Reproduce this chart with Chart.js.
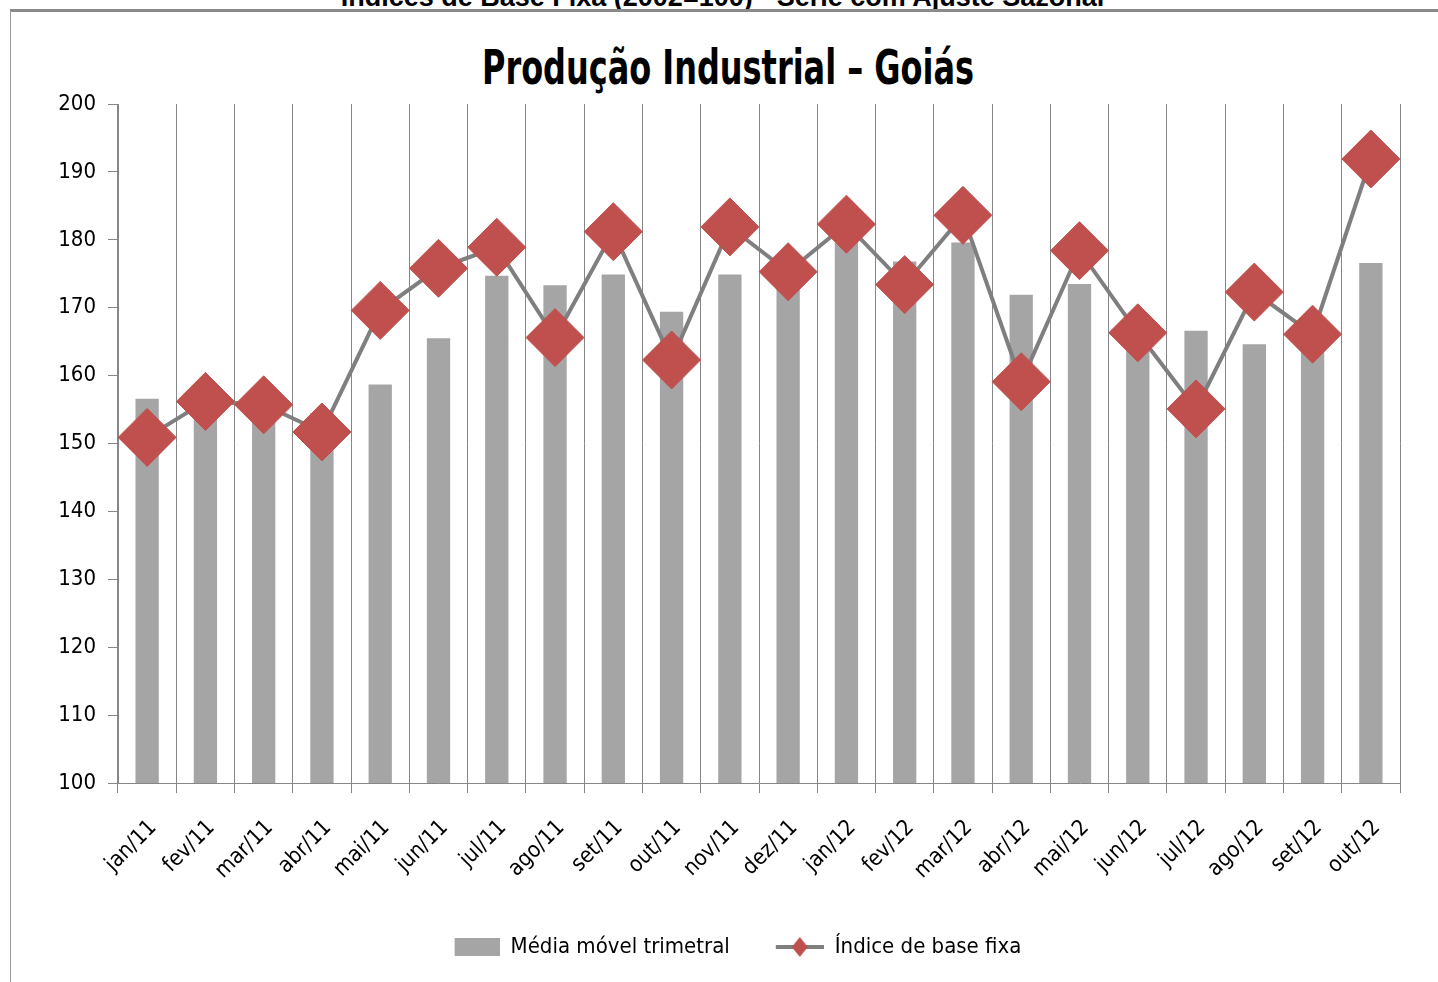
<!DOCTYPE html>
<html>
<head>
<meta charset="utf-8">
<script src="https://cdn.jsdelivr.net/npm/chart.js@4"></script>
<style>
	body { margin: 0; background: #fff; overflow: hidden; }
	#frame {
		position: absolute; left: 10px; top: 9px; width: 1428px; height: 973px;
		border-top: 3px solid #8a8a8a; border-left: 1px solid #9a9a9a;
	}
	#topText {
		position: absolute; left: 0; top: -16px; width: 1445px; text-align: center;
		font: bold 27px/27px 'Liberation Sans', Arial, sans-serif; color: #000;
	}
	#title {
		position: absolute; left: 0; top: 39px; width: 1456px; text-align: center;
		font: bold 48px/56px 'DejaVu Sans Condensed', sans-serif; color: #000;
		transform: scaleX(0.74); transform-origin: 728px 0;
	}
	#box { position: absolute; left: 11px; top: 12px; width: 1427px; height: 970px; }
</style>
</head>
<body>
<div id="topText">Índices de Base Fixa (2002=100) - Série com Ajuste Sazonal</div>
<div id="frame"></div>
<div id="title">Produção Industrial – Goiás</div>
<div id="box"><canvas id="myChart"></canvas></div>
<script>
//categories on X axis
let labels = ['jan/11', 'fev/11', 'mar/11', 'abr/11', 'mai/11', 'jun/11', 'jul/11', 'ago/11', 'set/11', 'out/11', 'nov/11',
	'dez/11', 'jan/12', 'fev/12', 'mar/12', 'abr/12', 'mai/12', 'jun/12', 'jul/12', 'ago/12', 'set/12', 'out/12']

//bars - moving average
let mediaMovel = [156.6, 154.2, 154.4, 154.5, 158.7, 165.5, 174.7, 173.3, 174.9, 169.4, 174.9,
	173.2, 179.6, 176.8, 179.6, 171.9, 173.5, 167.8, 166.6, 164.6, 164.5, 176.6]

//line - fixed base index
let indiceBase = [150.9, 156.2, 155.7, 151.7, 169.6, 175.8, 178.9, 165.6, 181.2, 162.3, 181.9,
	175.3, 182.3, 173.4, 183.6, 159.1, 178.4, 166.3, 155.1, 172.3, 166.1, 191.9]

//y axis ticks
let yMin = 100, yMax = 200, yStep = 10

const fontFam = "'DejaVu Sans Condensed', 'Open Sans', sans-serif"
Chart.defaults.font.family = fontFam
Chart.defaults.color = '#000'

//legend icons (both 84 wide, drawn on the right so the gap between items looks like the original)
function barIcon() {
	let c = document.createElement('canvas')
	c.width = 84; c.height = 22
	let g = c.getContext('2d')
	g.fillStyle = '#A5A5A5'
	g.fillRect(39, 2, 45, 18)
	return c
}
function lineIcon() {
	let c = document.createElement('canvas')
	c.width = 84; c.height = 22
	let g = c.getContext('2d')
	g.strokeStyle = '#7F7F7F'
	g.lineWidth = 4
	g.beginPath(); g.moveTo(36, 11); g.lineTo(84, 11); g.stroke()
	g.fillStyle = '#C0504D'
	g.beginPath(); g.moveTo(60, 1); g.lineTo(68, 11); g.lineTo(60, 21); g.lineTo(52, 11); g.closePath(); g.fill()
	return c
}
let icons = [barIcon(), lineIcon()]

let data = {
	labels,
	datasets: [
		{
			type: 'bar',
			label: 'Média móvel trimetral',
			data: mediaMovel,
			backgroundColor: '#A5A5A5',
			barPercentage: 0.4,
			categoryPercentage: 1,
			order: 2
		},
		{
			type: 'line',
			label: 'Índice de base fixa',
			data: indiceBase,
			borderColor: '#7F7F7F',
			borderWidth: 4,
			pointStyle: 'rectRot',
			pointRadius: 29,
			pointBackgroundColor: '#C0504D',
			pointBorderColor: '#C0504D',
			pointBorderWidth: 1,
			tension: 0,
			order: 1
		}
	]
}

let config = {
	type: 'bar',
	data: data,
	options: {
		responsive: true,
		maintainAspectRatio: false,
		animation: false,
		devicePixelRatio: 1,
		layout: { padding: { left: 26, right: 38, top: 92, bottom: 14 } },
		plugins: {
			title: { display: false },
			legend: {
				position: 'bottom',
				labels: {
					usePointStyle: true,
					pointStyleWidth: 84,
					font: { size: 22 },
					color: '#000',
					padding: 10,
					generateLabels: (chart) => chart.data.datasets.map((ds, i) => ({
						text: ds.label,
						pointStyle: icons[i],
						datasetIndex: i,
						hidden: false,
						lineWidth: 0
					}))
				}
			},
			tooltip: { enabled: false }
		},
		scales: {
			x: {
				offset: true,
				grid: { offset: true, color: '#868686', lineWidth: 1, tickLength: 10 },
				border: { color: '#868686' },
				ticks: { autoSkip: false, minRotation: 45, maxRotation: 45, padding: 22, labelOffset: 6, font: { size: 22 } },
				afterFit: (s) => { s.height = 143 }
			},
			y: {
				min: yMin,
				max: yMax,
				ticks: { stepSize: yStep, padding: 12, font: { size: 22 } },
				grid: { drawOnChartArea: false, color: '#868686', tickLength: 10 },
				border: { color: '#868686' },
				afterFit: (s) => { s.width = 81 }
			}
		}
	}
}

let chart = new Chart(document.getElementById('myChart').getContext('2d'), config)
</script>
</body>
</html>
